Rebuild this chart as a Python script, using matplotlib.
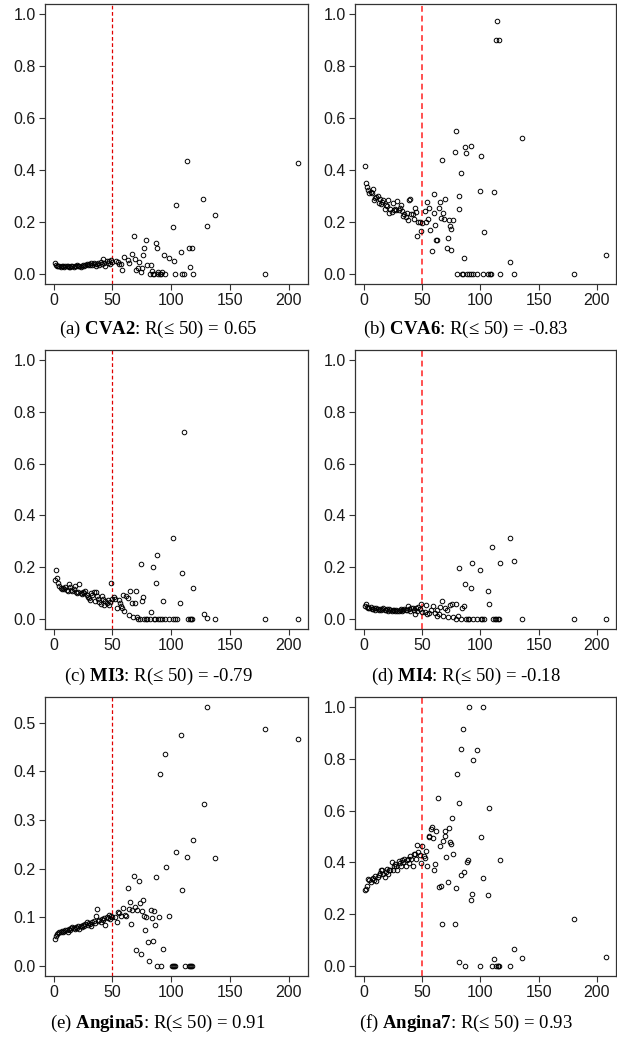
import matplotlib
matplotlib.use("Agg")
import matplotlib.pyplot as plt

plt.rcParams["mathtext.fontset"] = "custom"
plt.rcParams["mathtext.rm"] = "Liberation Serif"
plt.rcParams["mathtext.bf"] = "Liberation Serif:bold"

# x positions of the dense part (shared by all panels)
x_low = [1, 2, 3, 4, 5, 6, 7, 8, 9, 10, 11, 12, 13, 14, 15, 16, 17, 18, 19, 20,
         21, 22, 23, 24, 25, 26, 27, 28, 29, 30, 31, 32, 33, 34, 35, 36, 37, 38, 39, 40,
         41, 42, 43, 44, 45, 46, 47, 48, 49, 50]

# ---- (a) CVA2
cva2_low = [0.040, 0.033, 0.030, 0.028, 0.030, 0.027, 0.029, 0.030, 0.027, 0.029,
            0.028, 0.030, 0.027, 0.026, 0.028, 0.030, 0.027, 0.031, 0.029, 0.032,
            0.028, 0.030, 0.027, 0.030, 0.033, 0.031, 0.035, 0.038, 0.033, 0.036,
            0.034, 0.040, 0.032, 0.042, 0.036, 0.030, 0.038, 0.041, 0.035, 0.045,
            0.038, 0.055, 0.040, 0.030, 0.048, 0.042, 0.050, 0.038, 0.052, 0.046]
cva2_hx = [113.5, 208, 127, 104.4, 137.6, 130.5, 101.3, 68.1, 78.3, 87.1, 77.2, 88.2,
           115.2, 117.7, 108.1, 66.7, 94.2, 98.4, 76.3, 102.4, 69, 60.1, 63, 64.4, 57.6,
           72.6, 79.1, 82.8, 116, 71.8, 75.5, 70, 58.4, 74.3, 53.3, 54.5, 55.3, 81.7,
           84.5, 85.7, 89.1, 90.2, 91.6, 94.8, 103.3, 108.9, 110.9, 118.6, 180, 83.5,
           88.5, 92.5]
cva2_hy = [0.436, 0.428, 0.289, 0.266, 0.225, 0.185, 0.178, 0.145, 0.130, 0.119, 0.098,
           0.098, 0.098, 0.098, 0.083, 0.077, 0.071, 0.062, 0.072, 0.048, 0.058, 0.064,
           0.052, 0.041, 0.036, 0.043, 0.034, 0.034, 0.027, 0.023, 0.021, 0.013, 0.013,
           0.005, 0.049, 0.043, 0.036, 0, 0, 0, 0, 0, 0, 0, 0, 0, 0, 0, 0, 0.010,
           0.007, 0.007]

# ---- (b) CVA6
cva6_low = [0.415, 0.350, 0.333, 0.323, 0.310, 0.316, 0.310, 0.325, 0.284, 0.293,
            0.297, 0.300, 0.271, 0.288, 0.267, 0.277, 0.284, 0.248, 0.266, 0.259,
            0.284, 0.234, 0.249, 0.237, 0.272, 0.245, 0.250, 0.245, 0.280, 0.245,
            0.255, 0.265, 0.240, 0.223, 0.230, 0.219, 0.232, 0.205, 0.285, 0.286,
            0.230, 0.230, 0.212, 0.253, 0.239, 0.146, 0.201, 0.201, 0.165, 0.197]
cva6_hx = [114.7, 113.3, 116.1, 79.2, 135.7, 92, 87, 88.1, 78, 100.7, 67.1, 83.1, 99.6,
           111.9, 60.1, 82, 70.2, 54.3, 65.5, 81.4, 64.3, 56.2, 52.3, 68.3, 60.3, 66.3,
           55.4, 53.7, 69.1, 73.3, 76.9, 74.1, 75.2, 61, 57.1, 102.9, 72.4, 62.4, 63.2,
           58.5, 71.3, 75.2, 86.2, 125.9, 208, 80.3, 84.5, 85.6, 88.9, 90.6, 92, 94,
           97.1, 102.1, 106.6, 108, 109.6, 116.9, 128.7, 180]
cva6_hy = [0.974, 0.900, 0.900, 0.552, 0.525, 0.493, 0.489, 0.466, 0.468, 0.452, 0.440,
           0.388, 0.320, 0.314, 0.307, 0.301, 0.286, 0.277, 0.277, 0.249, 0.253, 0.255,
           0.243, 0.235, 0.232, 0.215, 0.212, 0.201, 0.209, 0.205, 0.208, 0.183, 0.174,
           0.187, 0.169, 0.161, 0.137, 0.129, 0.129, 0.088, 0.100, 0.090, 0.059, 0.043,
           0.071, 0, 0, 0, 0, 0, 0, 0, 0, 0, 0, 0, 0, 0, 0, 0]

# ---- (c) MI3
mi3_low = [0.148, 0.188, 0.156, 0.137, 0.128, 0.120, 0.116, 0.119, 0.114, 0.121,
           0.110, 0.106, 0.133, 0.123, 0.112, 0.106, 0.115, 0.125, 0.103, 0.101,
           0.103, 0.134, 0.099, 0.097, 0.103, 0.101, 0.106, 0.093, 0.084, 0.081,
           0.071, 0.099, 0.090, 0.102, 0.067, 0.102, 0.086, 0.076, 0.066, 0.058,
           0.089, 0.076, 0.054, 0.070, 0.062, 0.074, 0.054, 0.065, 0.139, 0.076]
mi3_hx = [111.2, 101.3, 88.2, 74.3, 84.3, 109.2, 87.1, 118.6, 65.2, 70, 59, 61.8, 63,
          75.9, 51.6, 52.5, 55.6, 56.5, 75, 93.3, 66.4, 69.2, 107.8, 53.6, 57.3, 58.4,
          60.1, 83.1, 64.1, 67.5, 70.6, 127.7, 130.8, 72, 73.2, 76.9, 78.3, 79.7, 81.7,
          85.4, 86.5, 89.1, 90.2, 92.2, 95, 98.2, 101.6, 103, 105, 114, 115.7, 116.9,
          118, 137.6, 180, 208]
mi3_hy = [0.721, 0.312, 0.248, 0.212, 0.199, 0.178, 0.137, 0.119, 0.108, 0.108, 0.093,
          0.089, 0.080, 0.084, 0.084, 0.075, 0.071, 0.061, 0.067, 0.070, 0.061, 0.061,
          0.059, 0.040, 0.048, 0.043, 0.028, 0.026, 0.014, 0.006, 0.005, 0.019, 0.003,
          0, 0, 0, 0, 0, 0, 0, 0, 0, 0, 0, 0, 0, 0, 0, 0, 0, 0, 0, 0, 0, 0, 0]

# ---- (d) MI4
mi4_low = [0.048, 0.055, 0.045, 0.043, 0.040, 0.044, 0.038, 0.036, 0.041, 0.035,
           0.040, 0.037, 0.034, 0.038, 0.033, 0.036, 0.040, 0.034, 0.032, 0.036,
           0.031, 0.038, 0.033, 0.030, 0.035, 0.032, 0.030, 0.034, 0.031, 0.029,
           0.033, 0.036, 0.031, 0.035, 0.038, 0.034, 0.032, 0.048, 0.036, 0.030,
           0.040, 0.043, 0.035, 0.018, 0.040, 0.030, 0.045, 0.038, 0.055, 0.025]
mi4_hx = [125.6, 109.7, 129, 92.9, 116.6, 82, 99.6, 87.3, 91.7, 106.6, 107.7, 67.1, 53.4,
          59.3, 65.5, 74.4, 76.1, 79.4, 86.2, 84.2, 70.2, 71.3, 57.9, 62.7, 55.7, 61.3,
          64.3, 52.3, 54.3, 63.2, 68.5, 72.7, 77, 81.1, 78.9, 83.1, 87.6, 89.2, 90.3,
          93.7, 96.8, 100.7, 101.8, 102.9, 111.3, 112.7, 113.8, 115.2, 116.1, 135.7,
          180, 208]
mi4_hy = [0.314, 0.279, 0.222, 0.214, 0.214, 0.195, 0.187, 0.135, 0.120, 0.107, 0.055,
          0.067, 0.054, 0.048, 0.045, 0.053, 0.058, 0.055, 0.048, 0.041, 0.043, 0.035,
          0.032, 0.035, 0.022, 0.022, 0.018, 0.025, 0.019, 0.010, 0.010, 0.005, 0.006,
          0.009, 0, 0, 0, 0, 0, 0, 0, 0, 0, 0, 0, 0, 0, 0, 0, 0, 0, 0]

# ---- (e) Angina5
ang5_low = [0.055, 0.062, 0.066, 0.068, 0.070, 0.069, 0.071, 0.070, 0.072, 0.074,
            0.073, 0.070, 0.075, 0.073, 0.077, 0.080, 0.078, 0.076, 0.080, 0.078,
            0.081, 0.075, 0.082, 0.080, 0.083, 0.081, 0.085, 0.090, 0.083, 0.087,
            0.085, 0.082, 0.089, 0.091, 0.087, 0.102, 0.117, 0.092, 0.095, 0.090,
            0.097, 0.094, 0.099, 0.083, 0.100, 0.098, 0.105, 0.097, 0.103, 0.100]
ang5_hx = [130.5, 180, 108.7, 208, 94.5, 90.5, 127.7, 118.3, 104.4, 113.5, 137.6, 95.3,
           68.4, 72.3, 87.1, 63.3, 109.2, 76.3, 65.2, 73.5, 69.2, 64.4, 66.9, 70.6, 75.2,
           82.6, 85.1, 58.7, 54.5, 55.9, 60.4, 57.3, 61.8, 77.2, 78.9, 83.7, 89.4, 98.2,
           52.5, 53.9, 66, 86.2, 78, 84.5, 80.3, 93.3, 70.4, 74.3, 81.4, 88.2, 91.3,
           100.7, 101.6, 102.4, 103.3, 111.5, 114.9, 116, 116.9, 118]
ang5_hy = [0.532, 0.487, 0.475, 0.466, 0.436, 0.395, 0.333, 0.258, 0.234, 0.224, 0.221,
           0.203, 0.184, 0.175, 0.182, 0.160, 0.156, 0.135, 0.132, 0.130, 0.121, 0.116,
           0.114, 0.114, 0.112, 0.114, 0.112, 0.118, 0.110, 0.108, 0.105, 0.103, 0.102,
           0.103, 0.101, 0.099, 0.101, 0.103, 0.101, 0.090, 0.086, 0.084, 0.074, 0.051,
           0.049, 0.034, 0.032, 0.023, 0.009, 0, 0, 0, 0, 0, 0, 0, 0, 0, 0, 0]

# ---- (f) Angina7
ang7_low = [0.292, 0.297, 0.309, 0.337, 0.331, 0.324, 0.335, 0.340, 0.331, 0.349,
            0.328, 0.344, 0.350, 0.360, 0.369, 0.372, 0.354, 0.344, 0.363, 0.375,
            0.356, 0.372, 0.369, 0.402, 0.369, 0.386, 0.393, 0.385, 0.369, 0.407,
            0.398, 0.387, 0.408, 0.402, 0.414, 0.385, 0.408, 0.411, 0.398, 0.425,
            0.411, 0.387, 0.431, 0.434, 0.411, 0.467, 0.439, 0.427, 0.398, 0.462]
ang7_hx = [90.1, 102.1, 85, 83.9, 97.1, 94, 80.3, 63.5, 81.4, 107.7, 76.1, 73, 58.5, 57.9,
           62.1, 55.7, 56.5, 59.3, 100.7, 69.4, 70.2, 74.4, 75, 68, 65.2, 53.1, 51.7,
           52.3, 76.6, 71, 116.9, 89.5, 88.7, 61.3, 54.5, 60.4, 86.2, 83.1, 102.7, 72.2,
           66, 64.3, 79.2, 92.9, 106.6, 91.7, 67.1, 78, 180, 82, 87.3, 99.9, 109.9, 111.9,
           113.8, 115, 115.5, 116.1, 125.6, 128.7, 135.7, 208]
ang7_hy = [1.0, 1.0, 0.916, 0.839, 0.835, 0.798, 0.741, 0.649, 0.629, 0.610, 0.571, 0.534,
           0.535, 0.529, 0.520, 0.503, 0.498, 0.496, 0.500, 0.521, 0.503, 0.479, 0.472,
           0.483, 0.465, 0.444, 0.425, 0.418, 0.432, 0.421, 0.409, 0.408, 0.400, 0.394,
           0.385, 0.369, 0.363, 0.350, 0.338, 0.322, 0.310, 0.304, 0.301, 0.278, 0.275,
           0.254, 0.160, 0.161, 0.180, 0.014, 0, 0, 0, 0.027, 0, 0, 0, 0, 0, 0.063,
           0.030, 0.035]

panels = [
    (cva2_low, cva2_hx, cva2_hy, 1.0, r"(a) $\mathbf{CVA2}$: R(≤ 50) = 0.65"),
    (cva6_low, cva6_hx, cva6_hy, 1.0, r"(b) $\mathbf{CVA6}$: R(≤ 50) = -0.83"),
    (mi3_low, mi3_hx, mi3_hy, 1.0, r"(c) $\mathbf{MI3}$: R(≤ 50) = -0.79"),
    (mi4_low, mi4_hx, mi4_hy, 1.0, r"(d) $\mathbf{MI4}$: R(≤ 50) = -0.18"),
    (ang5_low, ang5_hx, ang5_hy, 0.532, r"(e) $\mathbf{Angina5}$: R(≤ 50) = 0.91"),
    (ang7_low, ang7_hx, ang7_hy, 1.0, r"(f) $\mathbf{Angina7}$: R(≤ 50) = 0.93"),
]

W, H = 617, 1037
fig = plt.figure(figsize=(W / 100, H / 100), dpi=100)

col_px = [(45, 263), (355, 261)]
row_px = [(4, 284), (350, 629), (697, 976)]
cap_x = [158, 466]
cap_y = [329, 676, 1023]

for i, (ylow, hx, hy, ymax, caption) in enumerate(panels):
    r, c = divmod(i, 2)
    left, width = col_px[c]
    top, bottom = row_px[r]
    ax = fig.add_axes([left / W, 1 - bottom / H, width / W, (bottom - top) / H])

    if c == 0:
        vcol, vlw = "#e00000", 0.9
    else:
        vcol, vlw = "#ff5050", 1.4
    ax.axvline(50, color=vcol, lw=vlw, ls=(0, (3, 2)), zorder=1)
    ax.plot(x_low + hx, ylow + hy, "o", ms=3.3, mfc="none", mec="black", mew=0.7,
            zorder=2)

    ax.set_xlim(-7.3, 216.3)
    ax.set_ylim(-0.04 * ymax, 1.04 * ymax)
    ax.set_xticks([0, 50, 100, 150, 200])
    if ymax < 1:
        ax.set_yticks([0, 0.1, 0.2, 0.3, 0.4, 0.5])
    else:
        ax.set_yticks([0, 0.2, 0.4, 0.6, 0.8, 1.0])
    ax.yaxis.set_major_formatter(matplotlib.ticker.FormatStrFormatter("%.1f"))
    ax.tick_params(direction="out", length=4, width=0.8, color="#333333",
                   labelsize=11.5, labelcolor="#1a1a1a", pad=2.5)
    for lab in ax.get_xticklabels() + ax.get_yticklabels():
        lab.set_fontfamily("Liberation Sans")
    for sp in ax.spines.values():
        sp.set_color("#333333")
        sp.set_linewidth(0.9)

    fig.text(cap_x[c] / W, 1 - cap_y[r] / H, caption, ha="center", va="center",
             fontsize=13.5, family=["Liberation Serif", "DejaVu Serif"])

fig.savefig("out.png", dpi=100)
